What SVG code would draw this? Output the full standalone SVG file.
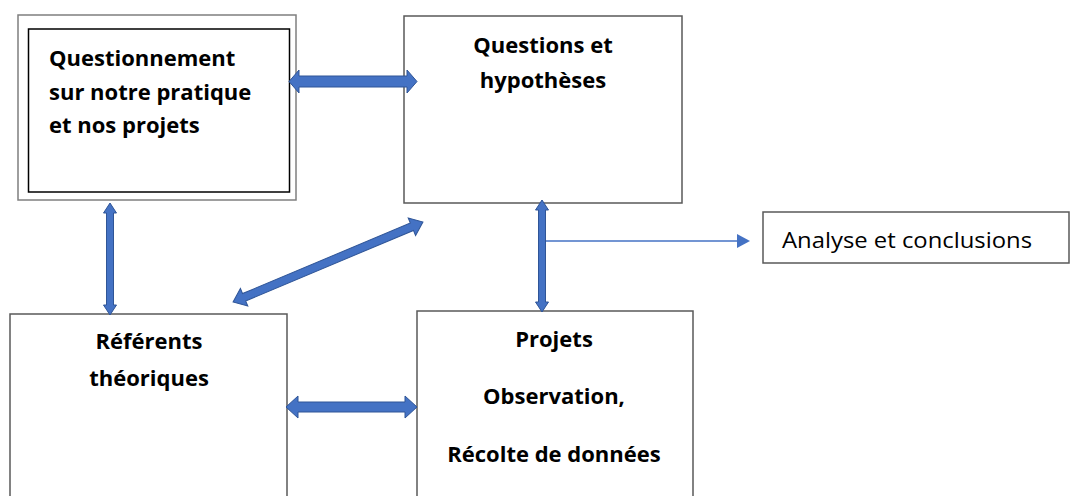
<svg xmlns="http://www.w3.org/2000/svg" width="1071" height="496" viewBox="0 0 1071 496">
<style>
.box{fill:#fff;stroke:#595959;stroke-width:1.5}
.t{font-family:"Open Sans","Noto Sans",sans-serif;font-weight:bold;font-size:22px;fill:#000}
.c{text-anchor:middle}
.arr{fill:#4472C4;stroke:#2F5597;stroke-width:1}
</style>
<rect width="1071" height="496" fill="#fff"/>
<g id="node-questionnement">
<rect x="18" y="15" width="278" height="185" fill="#fff" stroke="#7f7f7f" stroke-width="1.5"/>
<rect x="28.5" y="29" width="261" height="163" fill="#fff" stroke="#000" stroke-width="1.5"/>
<text class="t" x="49" y="66">Questionnement</text>
<text class="t" x="49" y="100">sur notre pratique</text>
<text class="t" x="49" y="133">et nos projets</text>
</g>
<g id="node-questions">
<rect class="box" x="404" y="16" width="278" height="187"/>
<text class="t c" x="543" y="53">Questions et</text>
<text class="t c" x="543" y="88">hypothèses</text>
</g>
<g id="node-analyse">
<rect class="box" x="763" y="212" width="306" height="51"/>
<text x="782" y="248" font-family="'Open Sans','Noto Sans',sans-serif" font-size="21" fill="#000" textLength="250" lengthAdjust="spacingAndGlyphs">Analyse et conclusions</text>
</g>
<g id="node-referents">
<rect class="box" x="10" y="314" width="277" height="190"/>
<text class="t c" x="149" y="349">Référents</text>
<text class="t c" x="149" y="386">théoriques</text>
</g>
<g id="node-projets">
<rect class="box" x="417" y="311" width="276" height="190"/>
<text class="t c" x="554" y="347">Projets</text>
<text class="t c" x="554" y="404">Observation,</text>
<text class="t c" x="554" y="462">Récolte de données</text>
</g>
<g id="connectors">
<path class="arr" d="M289 81.5 L299 70 L299 76 L407 76 L407 70 L417 81.5 L407 93 L407 87 L299 87 L299 93 Z"/>
<path class="arr" d="M286 407 L298 396 L298 402 L405 402 L405 396 L417 407 L405 418 L405 412 L298 412 L298 418 Z"/>
<path class="arr" d="M110 203 L116.5 213 L113.5 213 L113.5 305 L116.5 305 L110 315 L103.5 305 L106.5 305 L106.5 213 L103.5 213 Z"/>
<path class="arr" d="M542 200 L548.5 210 L545.5 210 L545.5 302 L548.5 302 L542 312 L535.5 302 L538.5 302 L538.5 210 L535.5 210 Z"/>
<path class="arr" transform="translate(328,262) rotate(-22.8)" d="M-103 0 L-91 -9.5 L-91 -4 L91 -4 L91 -9.5 L103 0 L91 9.5 L91 4 L-91 4 L-91 9.5 Z"/>
<line x1="546" y1="241" x2="738" y2="241" stroke="#4472C4" stroke-width="1.5"/>
<polygon points="737,234 750,241 737,248" fill="#4472C4"/>
</g>
</svg>
